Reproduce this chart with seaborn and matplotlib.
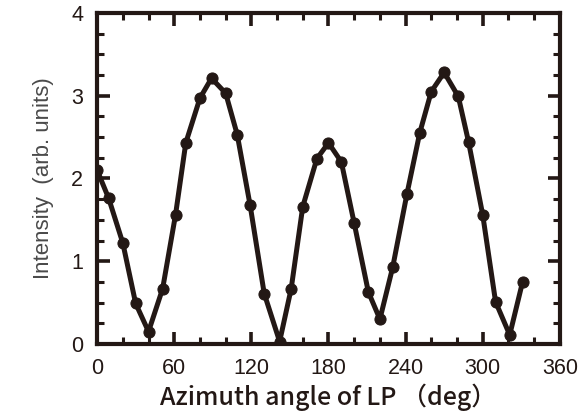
import matplotlib
matplotlib.use("Agg")
import matplotlib.pyplot as plt
from matplotlib.ticker import MultipleLocator
import seaborn as sns
import pandas as pd

# Polarization-angle scan of the emission intensity
angle_deg = [0, 9, 20, 30, 40, 51, 61, 69, 80, 89, 100, 109, 119, 130, 142,
             151, 160, 171, 180, 190, 200, 211, 220, 230, 241, 251, 260, 270,
             281, 289, 300, 310, 321, 331]
intensity = [2.10, 1.76, 1.22, 0.49, 0.15, 0.67, 1.56, 2.43, 2.97, 3.21, 3.03,
             2.53, 1.68, 0.61, 0.03, 0.67, 1.66, 2.24, 2.43, 2.20, 1.46, 0.63,
             0.30, 0.93, 1.81, 2.55, 3.05, 3.28, 2.99, 2.44, 1.56, 0.51, 0.11,
             0.75]

x_ticks = [0, 60, 120, 180, 240, 300, 360]
y_ticks = [0, 1, 2, 3, 4]

ink = "#231815"

sns.set_theme(style="ticks")
plt.rcParams["font.family"] = ["Liberation Sans", "DejaVu Sans"]

df = pd.DataFrame({"angle": angle_deg, "intensity": intensity})

fig = plt.figure(figsize=(5.85, 4.15), dpi=100)
ax = fig.add_axes([0.166, 0.171, 0.791, 0.798])

sns.lineplot(data=df, x="angle", y="intensity", ax=ax, sort=False,
             color=ink, linewidth=3.6, marker="o", markersize=8,
             markeredgecolor=ink, markerfacecolor=ink)

ax.set_xlim(0, 360)
ax.set_ylim(0, 4)
ax.set_xticks(x_ticks)
ax.set_yticks(y_ticks)
ax.xaxis.set_minor_locator(MultipleLocator(20))
ax.yaxis.set_minor_locator(MultipleLocator(0.25))

for side in ["left", "right", "top", "bottom"]:
    ax.spines[side].set_visible(True)
    ax.spines[side].set_linewidth(3.0)
    ax.spines[side].set_color(ink)

ax.tick_params(which="both", direction="in", top=True, right=True,
               color=ink, labelcolor=ink)
ax.tick_params(which="major", length=9, width=2.6, labelsize=15.5, pad=10)
ax.tick_params(which="minor", length=5, width=2.2)

ax.set_xlabel("Azimuth angle of LP \uff08deg\uff09", fontsize=18, color=ink,
              labelpad=3, family=["Noto Sans CJK JP", "DejaVu Sans"],
              weight="medium")
ax.set_ylabel("Intensity  (arb. units)", fontsize=16, color="#4a4a4a",
              labelpad=12)

fig.savefig("out.png", dpi=100)
